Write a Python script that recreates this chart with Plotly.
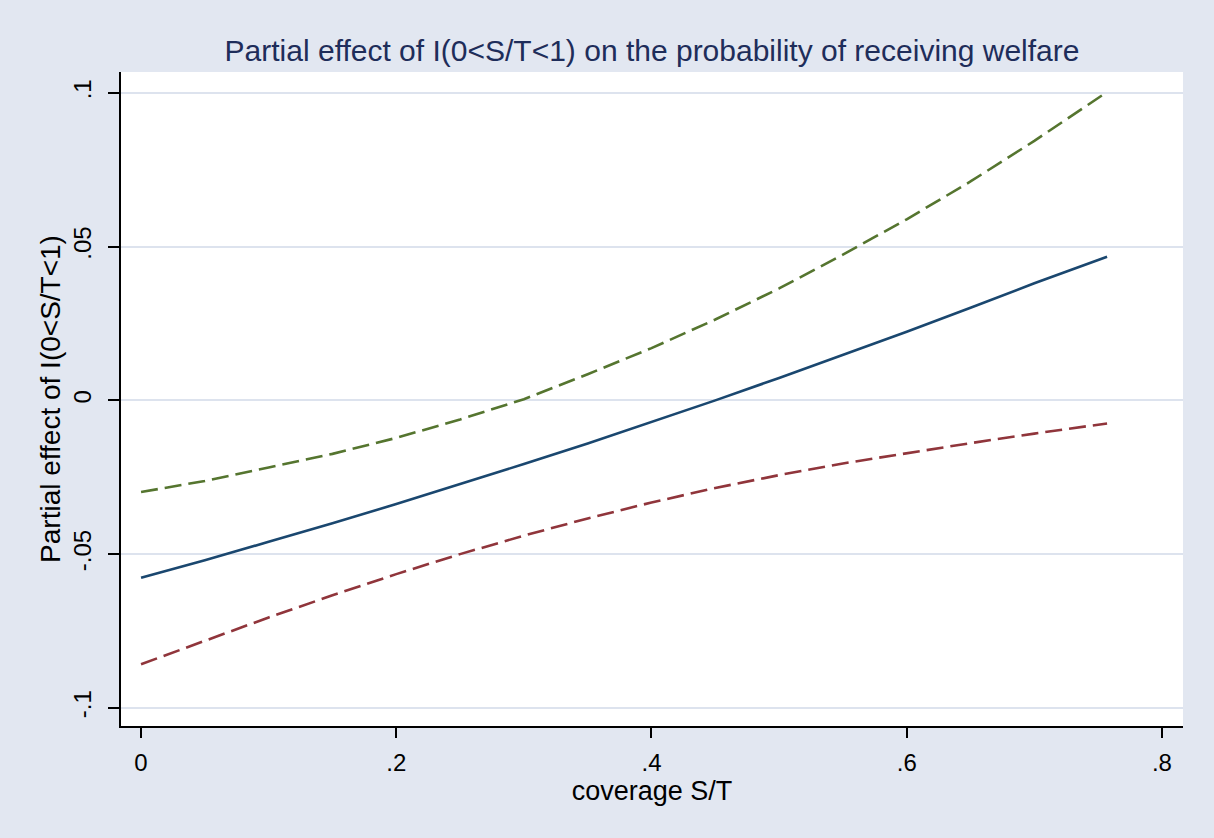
import plotly.graph_objects as go

# coverage S/T
coverage = [0.0, 0.05, 0.1, 0.15, 0.2, 0.25, 0.3, 0.35, 0.4, 0.45, 0.5, 0.55, 0.6, 0.65, 0.7, 0.757]
# point estimate of partial effect
effect = [-0.0577, -0.0520, -0.0460, -0.0400, -0.0337, -0.0273, -0.0207, -0.0140, -0.0071, 0.0000,
          0.0073, 0.0147, 0.0223, 0.0301, 0.0381, 0.0467]
# upper confidence bound
upper = [-0.0298, -0.0262, -0.0218, -0.0174, -0.0122, -0.0062, 0.0004, 0.0085, 0.0170, 0.0263,
         0.0364, 0.0474, 0.0589, 0.0712, 0.0844, 0.1003]
# lower confidence bound
lower = [-0.0858, -0.0781, -0.0706, -0.0634, -0.0565, -0.0500, -0.0440, -0.0384, -0.0332, -0.0285,
         -0.0243, -0.0205, -0.0171, -0.0139, -0.0108, -0.0075]

x_ticks = [0, 0.2, 0.4, 0.6, 0.8]
x_labels = ["0", ".2", ".4", ".6", ".8"]
y_ticks = [-0.1, -0.05, 0, 0.05, 0.1]
y_labels = ["-.1", "-.05", "0", ".05", ".1"]

FONT = "Liberation Sans, Arial, sans-serif"

fig = go.Figure()
fig.add_trace(go.Scatter(x=coverage, y=effect, mode="lines",
                         line=dict(color="#1A476F", width=2.6), showlegend=False))
fig.add_trace(go.Scatter(x=coverage, y=upper, mode="lines",
                         line=dict(color="#55752F", width=2.6, dash="17px,7px"), showlegend=False))
fig.add_trace(go.Scatter(x=coverage, y=lower, mode="lines",
                         line=dict(color="#90353B", width=2.6, dash="17px,7px"), showlegend=False))

fig.update_layout(
    width=1214, height=838,
    margin=dict(l=121, r=31, t=72, b=112),
    paper_bgcolor="#E2E7F1",
    plot_bgcolor="#FFFFFF",
    font=dict(family=FONT, size=24, color="#000000"),
    title=dict(text="Partial effect of I(0<S/T<1) on the probability of receiving welfare",
               x=0.5371, xanchor="center", xref="container",
               y=1 - 50 / 838, yanchor="middle", yref="container",
               font=dict(family=FONT, size=30, color="#1E2D5A")),
    xaxis=dict(range=[-0.0157, 0.8165], tickvals=x_ticks, ticktext=x_labels,
               showgrid=False, zeroline=False, showline=True, linecolor="#000000", linewidth=1.5,
               ticks="outside", ticklen=10, tickwidth=1.5, tickcolor="#000000",
               tickfont=dict(size=24), ticklabelstandoff=4,
               title=dict(text="coverage S/T", font=dict(size=27), standoff=0)),
    yaxis=dict(range=[-0.1059, 0.1068], tickvals=y_ticks, ticktext=y_labels,
               showgrid=True, gridcolor="#DDE3EE", gridwidth=2,
               zeroline=False, showline=True, linecolor="#000000", linewidth=1.5,
               ticks="outside", ticklen=11, tickwidth=1.5, tickcolor="#000000",
               tickangle=-90, tickfont=dict(size=24), ticklabelstandoff=8,
               title=dict(text="Partial effect of I(0<S/T<1)", font=dict(size=28), standoff=0)),
)

fig.write_html("out.html", config={"displayModeBar": False},
               post_script="document.body.style.margin='0px';")
